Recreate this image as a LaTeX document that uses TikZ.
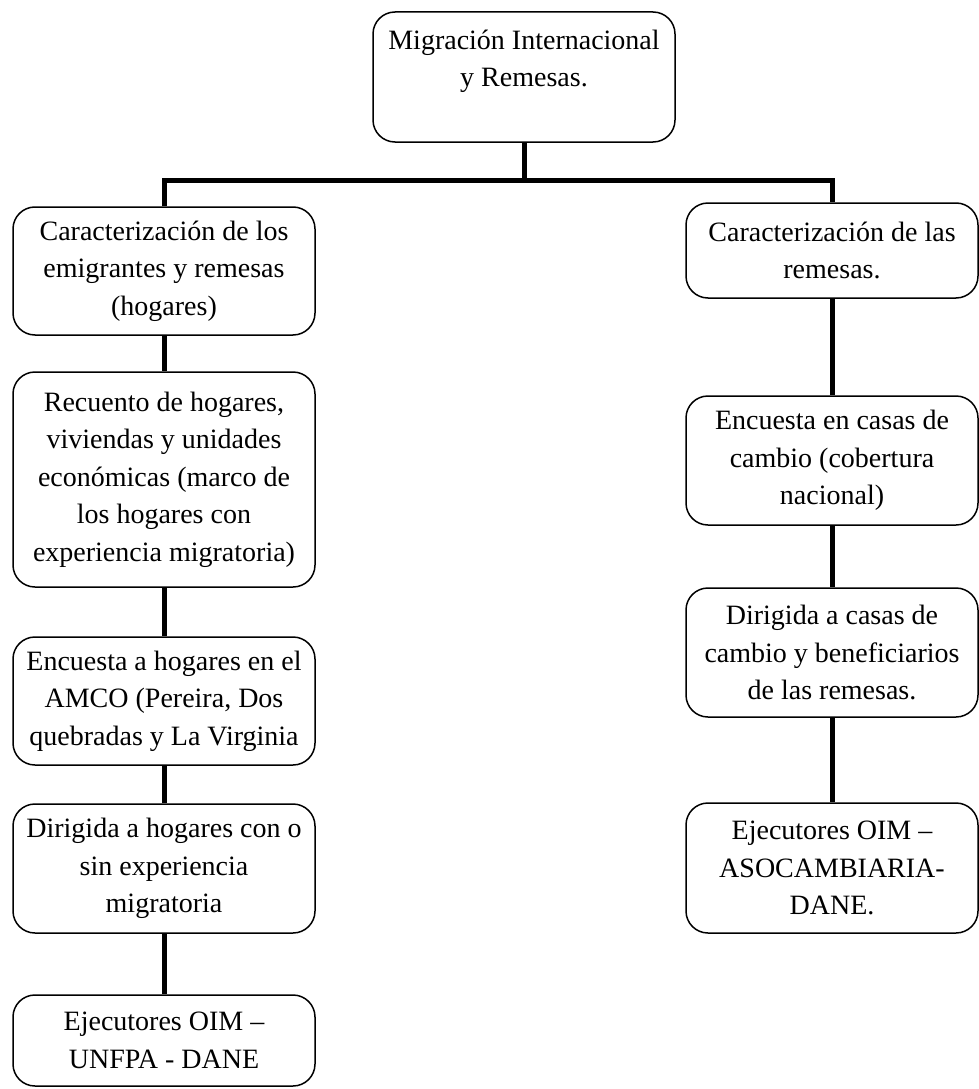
\documentclass[tikz,border=0pt]{standalone}
\usepackage{fontspec}
\setmainfont{Liberation Serif}
\begin{document}
\begin{tikzpicture}[x=1pt,y=-1pt,
  box/.style={draw=black, line width=1.5pt, rounded corners=22pt, fill=white,
    align=center, inner sep=0pt, font=\fontsize{28}{37.5}\selectfont},
  lbox/.style={box, minimum width=302pt},
  rbox/.style={box, minimum width=292pt},
  conn/.style={draw=black, line width=5pt}]
\useasboundingbox (0,0) rectangle (979,1089);

\node[lbox, minimum height=130pt] (top) at (524,77) {Migración Internacional\\y Remesas.\\\mbox{}};

\node[lbox, minimum height=128pt] (l1) at (164,271) {Caracterización de los\\emigrantes y remesas\\(hogares)};
\node[lbox, minimum height=215pt] (l2) at (164,479.5) {Recuento de hogares,\\viviendas y unidades\\económicas (marco de\\los hogares con\\experiencia migratoria)};
\node[lbox, minimum height=128pt] (l3) at (164,701) {Encuesta a hogares en el\\AMCO (Pereira, Dos\\quebradas y La Virginia};
\node[lbox, minimum height=129pt] (l4) at (164,868.5) {Dirigida a hogares con o\\sin experiencia\\migratoria};
\node[lbox, minimum height=91pt] (l5) at (164,1040.5) {Ejecutores OIM –\\UNFPA - DANE};

\node[rbox, minimum height=95pt] (r1) at (832,250.5) {Caracterización de las\\remesas.};
\node[rbox, minimum height=129pt] (r2) at (832,460.5) {Encuesta en casas de\\cambio (cobertura\\nacional)};
\node[rbox, minimum height=129pt] (r3) at (832,652.5) {Dirigida a casas de\\cambio y beneficiarios\\de las remesas.};
\node[rbox, minimum height=130pt] (r4) at (832,868) {Ejecutores OIM –\\ASOCAMBIARIA-\\DANE.};

\coordinate (bus) at (0,180);
\draw[conn] (top.south) -- (top.south |- bus);
\draw[conn] (l1.north) -- (l1.north |- bus) -- (r1.north |- bus) -- (r1.north);
\draw[conn] (l1.south) -- (l2.north);
\draw[conn] (l2.south) -- (l3.north);
\draw[conn] (l3.south) -- (l4.north);
\draw[conn] (l4.south) -- (l5.north);
\draw[conn] (r1.south) -- (r2.north);
\draw[conn] (r2.south) -- (r3.north);
\draw[conn] (r3.south) -- (r4.north);
\end{tikzpicture}
\end{document}
